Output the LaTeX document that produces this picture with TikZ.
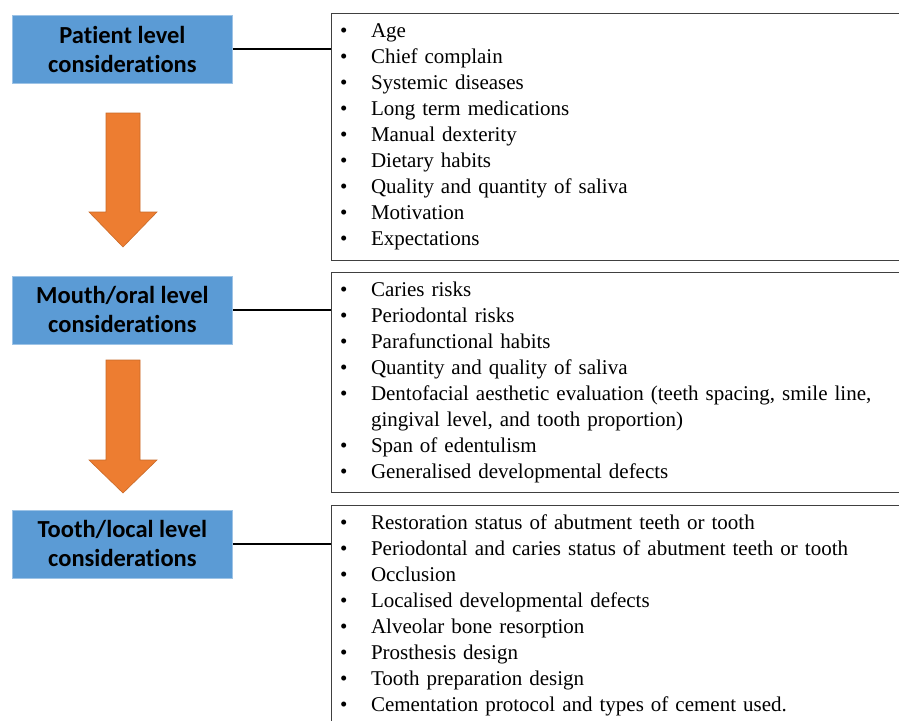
\documentclass[tikz,border=0pt]{standalone}
\usepackage{fontspec}
\setmainfont{Liberation Serif}
\newfontfamily\boxfont[Ligatures={NoCommon,NoRare,NoDiscretionary}]{Carlito}
\definecolor{hdrblue}{HTML}{5B9BD5}
\definecolor{hdredge}{HTML}{9DC3E6}
\definecolor{arrorange}{HTML}{ED7D31}
\definecolor{arredge}{HTML}{C96A28}
\definecolor{listedge}{HTML}{404040}
\setlength{\parindent}{0pt}
\newcommand{\bitem}[1]{\makebox[31pt][l]{\textbullet}#1\\}
\newcommand{\bcont}[1]{\hspace*{31pt}#1\\}
\begin{document}
\begin{tikzpicture}[x=1pt,y=-1pt,
  hdr/.style={draw=hdredge, line width=0.8pt, fill=hdrblue, minimum width=220pt, minimum height=68pt,
    anchor=north west, inner sep=0pt, align=center,
    font=\boxfont\bfseries\fontsize{24.5}{29}\selectfont},
  listbox/.style={draw=listedge, line width=1pt, anchor=north west,
    text width=582pt, inner xsep=9pt, inner ysep=0pt, align=left,
    font=\fontsize{21}{26}\selectfont},
  link/.style={line width=2pt, black},
  downarrow/.style={fill=arrorange, draw=arredge, line width=0.6pt}]
\useasboundingbox (0,0) rectangle (899,720);
\fill[white] (0,0) rectangle (899,720);

\node[hdr] (h1) at (12,15) {Patient level\\considerations};
\node[hdr] (h2) at (12,275.5) {Mouth/oral level\\considerations};
\node[hdr] (h3) at (12,509.5) {Tooth/local level\\considerations};

\node[listbox, minimum height=247pt] (l1) at (330.5,12.5) {%
\bitem{Age}\bitem{Chief complain}\bitem{Systemic diseases}\bitem{Long term medications}%
\bitem{Manual dexterity}\bitem{Dietary habits}\bitem{Quality and quantity of saliva}%
\bitem{Motivation}\bitem{Expectations}};

\node[listbox, minimum height=220pt] (l2) at (330.5,271.5) {%
\bitem{Caries risks}\bitem{Periodontal risks}\bitem{Parafunctional habits}%
\bitem{Quantity and quality of saliva}%
\bitem{Dentofacial aesthetic evaluation (teeth spacing, smile line,}%
\bcont{gingival level, and tooth proportion)}%
\bitem{Span of edentulism}\bitem{Generalised developmental defects}};

\node[listbox, minimum height=221pt] (l3) at (330.5,504.5) {%
\bitem{Restoration status of abutment teeth or tooth}%
\bitem{Periodontal and caries status of abutment teeth or tooth}%
\bitem{Occlusion}\bitem{Localised developmental defects}\bitem{Alveolar bone resorption}%
\bitem{Prosthesis design}\bitem{Tooth preparation design}%
\bitem{Cementation protocol and types of cement used.}};

\draw[link] (h1.east) -- (h1.east -| l1.west);
\draw[link] (h2.east) -- (h2.east -| l2.west);
\draw[link] (h3.east) -- (h3.east -| l3.west);

\draw[downarrow] (106,113) -- (140,113) -- (140,212) -- (157,212) -- (123,247) -- (89,212) -- (106,212) -- cycle;
\draw[downarrow] (106,360) -- (140,360) -- (140,460) -- (157,460) -- (123,493) -- (89,460) -- (106,460) -- cycle;
\end{tikzpicture}
\end{document}
